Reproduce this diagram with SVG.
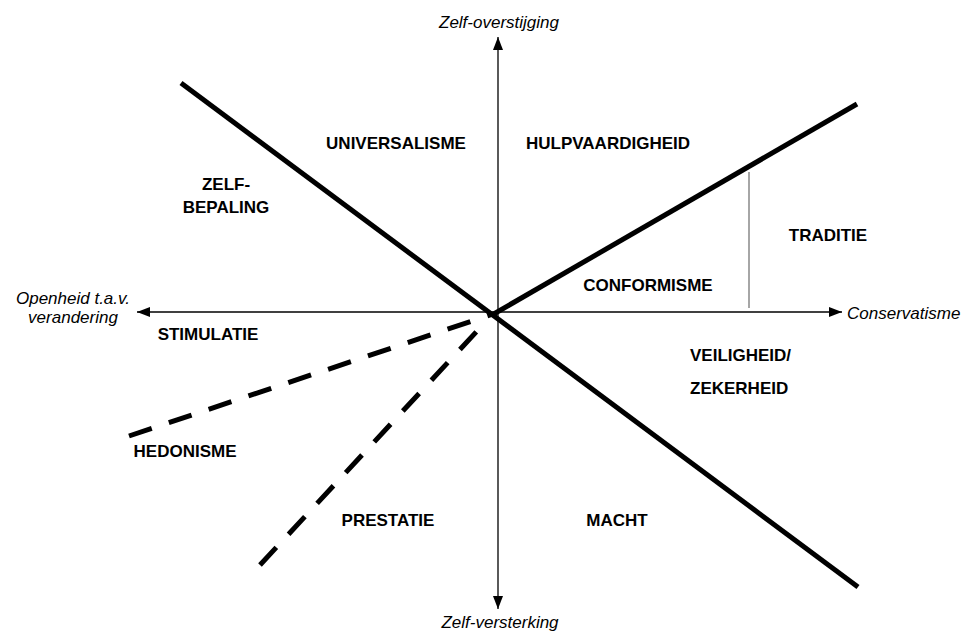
<svg xmlns="http://www.w3.org/2000/svg" width="971" height="635" viewBox="0 0 971 635">
<style>
.lbl{font-family:"Liberation Sans",Arial,sans-serif;font-weight:bold;font-size:17px;fill:#000}
.ax{font-family:"Liberation Sans",Arial,sans-serif;font-style:italic;font-size:17px;fill:#000}
.axis{stroke:#000;stroke-width:1.3;fill:none}
.thick{stroke:#000;stroke-width:5;fill:none}
.dash{stroke:#000;stroke-width:5;fill:none;stroke-dasharray:24 18}
</style>
<defs>
<marker id="arr" viewBox="0 0 13 10" refX="13" refY="5" markerWidth="13" markerHeight="10" markerUnits="userSpaceOnUse" orient="auto">
<path d="M0,0 L13,5 L0,10 Z" fill="#000"/>
</marker>
</defs>
<rect width="971" height="635" fill="#fff"/>
<g id="connectors">
<line class="axis" x1="498" y1="312" x2="498" y2="37" marker-end="url(#arr)"/>
<line class="axis" x1="498" y1="312" x2="498" y2="609" marker-end="url(#arr)"/>
<line class="axis" x1="498" y1="312" x2="137" y2="312" marker-end="url(#arr)"/>
<line class="axis" x1="498" y1="312" x2="842" y2="312" marker-end="url(#arr)"/>
<line class="thick" x1="181" y1="83" x2="858" y2="587"/>
<line class="thick" x1="492" y1="315" x2="857" y2="104"/>
<line x1="749" y1="172" x2="749" y2="308" stroke="#888" stroke-width="1.5"/>
<line class="dash" x1="129" y1="436" x2="493" y2="314"/>
<line class="dash" x1="260" y1="565" x2="478" y2="330"/>
</g>
<g id="axis-labels">
<text class="ax" x="499" y="28" text-anchor="middle">Zelf-overstijging</text>
<text class="ax" x="500" y="628" text-anchor="middle">Zelf-versterking</text>
<text class="ax" x="847" y="319">Conservatisme</text>
<text class="ax" x="73" y="304" text-anchor="middle">Openheid t.a.v.</text>
<text class="ax" x="73" y="323" text-anchor="middle">verandering</text>
</g>
<g id="universalisme"><text class="lbl" x="396" y="149" text-anchor="middle">UNIVERSALISME</text></g>
<g id="hulpvaardigheid"><text class="lbl" x="608" y="149" text-anchor="middle">HULPVAARDIGHEID</text></g>
<g id="zelfbepaling"><text class="lbl" x="226" y="190" text-anchor="middle">ZELF-</text><text class="lbl" x="226" y="213" text-anchor="middle">BEPALING</text></g>
<g id="traditie"><text class="lbl" x="828" y="241" text-anchor="middle">TRADITIE</text></g>
<g id="conformisme"><text class="lbl" x="648" y="291" text-anchor="middle">CONFORMISME</text></g>
<g id="stimulatie"><text class="lbl" x="208" y="340" text-anchor="middle">STIMULATIE</text></g>
<g id="veiligheid"><text class="lbl" x="690" y="361">VEILIGHEID/</text><text class="lbl" x="690" y="394">ZEKERHEID</text></g>
<g id="hedonisme"><text class="lbl" x="185" y="457" text-anchor="middle">HEDONISME</text></g>
<g id="prestatie"><text class="lbl" x="388" y="526" text-anchor="middle">PRESTATIE</text></g>
<g id="macht"><text class="lbl" x="617" y="526" text-anchor="middle">MACHT</text></g>
</svg>
